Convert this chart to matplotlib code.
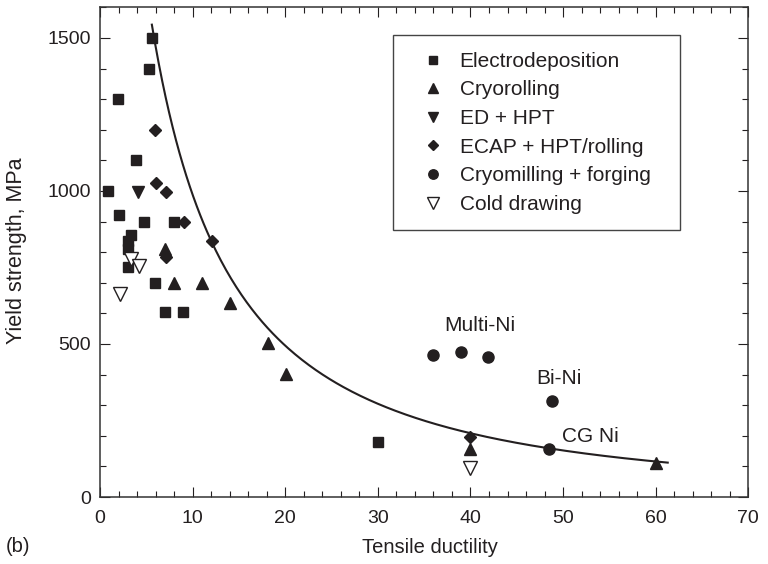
import numpy as np
import matplotlib
matplotlib.use('Agg')
import matplotlib.pyplot as plt
from matplotlib.ticker import MultipleLocator

plt.rcParams['font.family'] = ['Liberation Sans', 'DejaVu Sans']

# data (tensile ductility %, yield strength MPa)
ed_x = [5.6, 5.3, 1.9, 3.9, 0.9, 2.0, 4.8, 8.0, 3.3, 3.0, 3.0, 3.0, 5.9, 7.05, 9.0, 30.0]
ed_y = [1500, 1400, 1300, 1100, 1000, 920, 900, 900, 855, 835, 810, 750, 700, 605, 605, 180]

cryo_x = [8.0, 11.0, 14.0, 7.0, 18.1, 20.1, 40.0, 60.0]
cryo_y = [700, 700, 635, 810, 502, 402, 157, 110]

edhpt_x = [4.1]
edhpt_y = [995]

ecap_x = [5.9, 6.0, 7.1, 9.1, 12.1, 7.1, 40.0]
ecap_y = [1200, 1025, 995, 900, 835, 785, 197]

cryomill_x = [36.0, 39.0, 41.9, 48.8, 48.5]
cryomill_y = [465, 473, 459, 314, 157]

cold_x = [3.4, 4.2, 2.2, 40.0]
cold_y = [778, 756, 663, 95]

# points
trend_x = [5.6, 12.4, 16.2, 19.8, 30.2, 32.4, 39.9, 48.4, 57.5, 61.3]
trend_y = [1563, 806, 588, 502, 319, 289, 202, 159, 121, 113]

annotations = [("Multi-Ni", 41.0, 561), ("Bi-Ni", 49.5, 387), ("CG Ni", 53.0, 197)]

dark = '#231f20'

fig = plt.figure(figsize=(7.68, 5.64), dpi=100)
ax = fig.add_axes([100 / 768, 1 - 497 / 564, 648.3 / 768, 489.7 / 564])

# smooth trend line: quadratic fit in log-log space
coef = np.polyfit(np.log(trend_x), np.log(trend_y), 2)
xs = np.linspace(min(trend_x), max(trend_x), 300)
ax.plot(xs, np.exp(np.polyval(coef, np.log(xs))), color=dark, lw=1.5, zorder=2)

ax.plot(ed_x, ed_y, 's', color=dark, ms=7.2, ls='none', label='Electrodeposition', zorder=3)
ax.plot(cryo_x, cryo_y, '^', color=dark, ms=9, ls='none', label='Cryorolling', zorder=3)
ax.plot(edhpt_x, edhpt_y, 'v', color=dark, ms=9, ls='none', label='ED + HPT', zorder=3)
ax.plot(ecap_x, ecap_y, 'D', color=dark, ms=6.5, ls='none', label='ECAP + HPT/rolling', zorder=3)
ax.plot(cryomill_x, cryomill_y, 'o', color=dark, ms=8, ls='none', label='Cryomilling + forging', zorder=3)
ax.plot(cold_x, cold_y, 'v', mfc='white', mec=dark, mew=1.0, ms=9.5, ls='none', label='Cold drawing', zorder=4)

for txt, tx, ty in annotations:
    ax.text(tx, ty, txt, fontsize=15, ha='center', va='center', color=dark)

ax.set_xlim(0, 70)
ax.set_ylim(0, 1600)
ax.xaxis.set_major_locator(MultipleLocator(10))
ax.xaxis.set_minor_locator(MultipleLocator(2))
ax.yaxis.set_major_locator(MultipleLocator(500))
ax.yaxis.set_minor_locator(MultipleLocator(100))
ax.tick_params(which='both', direction='in', top=True, right=True, color=dark, width=0.8)
ax.tick_params(which='major', length=7.2, labelsize=14, labelcolor=dark)
ax.tick_params(axis='x', which='major', pad=9.5)
ax.tick_params(axis='y', which='major', pad=6.5)
ax.tick_params(which='minor', length=4.3)
for s in ax.spines.values():
    s.set_linewidth(1.1)
    s.set_color('#333333')

ax.set_xlabel('Tensile ductility', fontsize=14.5, color=dark)
ax.xaxis.set_label_coords(0.509, -0.104, transform=ax.transAxes)
ax.xaxis.label.set_va('center')
ax.set_ylabel('Yield strength, MPa', fontsize=15.5, color=dark)
ax.yaxis.set_label_coords((16 - 100) / 648.3, 0.502)
ax.yaxis.label.set_va('center')
fig.text(6 / 768, 1 - 547 / 564, '(b)', fontsize=14.5, ha='left', va='center', color=dark)

leg = ax.legend(loc='upper left', bbox_to_anchor=(0.452, 0.549, 0.443, 0.394),
                mode='expand', borderaxespad=0,
                fontsize=15, numpoints=1, fancybox=False, framealpha=1,
                edgecolor='#444444', borderpad=0.8, labelspacing=0.46,
                handlelength=2.2, handletextpad=0.2, markerscale=0.85)
leg.get_frame().set_linewidth(1.0)
for t in leg.get_texts():
    t.set_color(dark)

fig.savefig('out.png', dpi=100)
